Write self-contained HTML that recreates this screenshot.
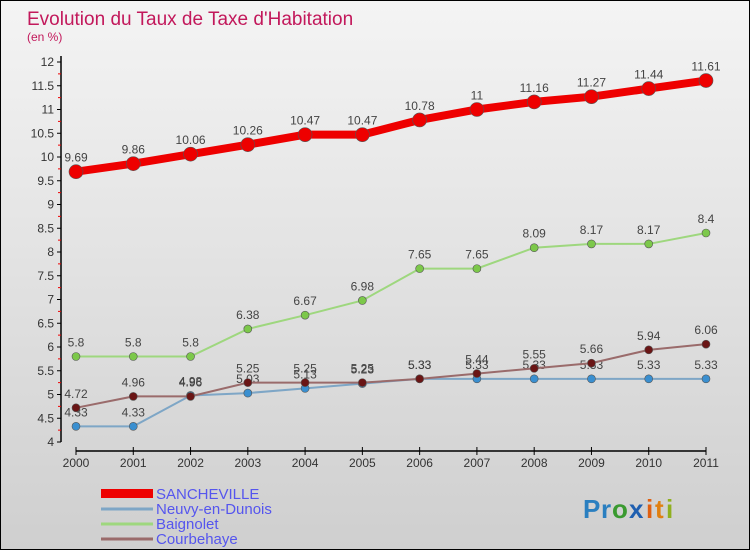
<!DOCTYPE html>
<html><head><meta charset="utf-8"><style>
body{margin:0;}
#wrap{width:748px;height:548px;border:1px solid #000;background:linear-gradient(#f4f4f4,#cfcfcf);position:relative;font-family:"Liberation Sans",sans-serif;overflow:hidden}
</style></head><body>
<div id="wrap">
<svg id="svg" width="748" height="548">
<text x="26" y="24" font-size="19" fill="#c2185b">Evolution du Taux de Taxe d'Habitation</text>
<text x="26" y="40" font-size="12" fill="#c2185b">(en %)</text>
<g id="axes"></g><g id="series"></g>
<g id="legend" font-size="15" fill="#5555ee">
<rect x="100" y="488" width="52" height="9" fill="#e00"/>
<text x="155" y="498">SANCHEVILLE</text>
<line x1="100" y1="508" x2="152" y2="508" stroke="#7ea6c6" stroke-width="3"/>
<text x="155" y="513">Neuvy-en-Dunois</text>
<line x1="100" y1="523" x2="152" y2="523" stroke="#9ed77e" stroke-width="3"/>
<text x="155" y="528">Baignolet</text>
<line x1="100" y1="538" x2="152" y2="538" stroke="#9a6b6b" stroke-width="3"/>
<text x="155" y="543">Courbehaye</text>
</g>
<g font-size="26" font-weight="bold">
<text x="582" y="517" fill="#2a7fc0">P</text><text x="600" y="517" fill="#2a7fc0">r</text><text x="611" y="517" fill="#3a9a30">o</text><text x="628" y="517" fill="#1f5fb0">x</text><text x="645" y="517" fill="#e06010">i</text><text x="654" y="517" fill="#e08010">t</text><text x="665" y="517" fill="#90b020">i</text>
</g>
</svg>
</div>
<script>
const years=[2000,2001,2002,2003,2004,2005,2006,2007,2008,2009,2010,2011];
const sancheville=[9.69,9.86,10.06,10.26,10.47,10.47,10.78,11,11.16,11.27,11.44,11.61];
const neuvy=[4.33,4.33,4.98,5.03,5.13,5.23,5.33,5.33,5.33,5.33,5.33,5.33];
const baignolet=[5.8,5.8,5.8,6.38,6.67,6.98,7.65,7.65,8.09,8.17,8.17,8.4];
const courbehaye=[4.72,4.96,4.96,5.25,5.25,5.25,5.33,5.44,5.55,5.66,5.94,6.06];
const yTicks=[4,4.5,5,5.5,6,6.5,7,7.5,8,8.5,9,9.5,10,10.5,11,11.5,12];
const NS="http://www.w3.org/2000/svg";
const xs=i=>75+i*(630/11);
const ys=v=>441-(v-4)*47.5;
function mk(t,a,p){const e=document.createElementNS(NS,t);for(const k in a)e.setAttribute(k,a[k]);p.appendChild(e);return e;}
const ax=document.getElementById('axes');
const yl=mk('line',{x1:60,y1:55,x2:60,y2:441,stroke:'#000','stroke-width':1.5},ax);


const xl=mk('line',{x1:75,y1:450,x2:705,y2:450,stroke:'#000','stroke-width':1.5},ax);


yTicks.forEach(v=>{
  mk('line',{x1:56,y1:ys(v),x2:60,y2:ys(v),stroke:'#000'},ax);
  if(v<12)mk('line',{x1:57,y1:ys(v+0.25),x2:60,y2:ys(v+0.25),stroke:'#e00'},ax);
  const t=mk('text',{x:53,y:ys(v)+4,'font-size':12,'text-anchor':'end',fill:'#333'},ax);
  t.textContent=String(v);
  
  
});
years.forEach((y,i)=>{
  mk('line',{x1:xs(i),y1:446,x2:xs(i),y2:454,stroke:'#000'},ax);
  const t=mk('text',{x:xs(i),y:466,'font-size':12,'text-anchor':'middle',fill:'#333'},ax);
  t.textContent=String(y);
  
  
});
const sg=document.getElementById('series');
function series(name,data,col,dot,w,r){
  const g=mk('g',{},sg);
  
  
  const p=mk('polyline',{points:data.map((v,i)=>xs(i)+','+ys(v)).join(' '),fill:'none',stroke:col,'stroke-width':w},g);
  
  
  data.forEach((v,i)=>{
    const c=mk('circle',{cx:xs(i),cy:ys(v),r:r,fill:dot,stroke:'#555','stroke-width':0.6},g);
    
    
    const t=mk('text',{x:xs(i),y:ys(v)-10,'font-size':12,'text-anchor':'middle',fill:'#444'},g);
    t.textContent=String(v);
    
    
  });
}
series('baignolet',baignolet,'#9ed77e','#7cc84a',2,4);
series('neuvy',neuvy,'#7ea6c6','#3a8fd0',2,4);
series('courbehaye',courbehaye,'#9a6b6b','#6a1515',2,4);
series('sancheville',sancheville,'#e00','#e00',8,7);
</script>
</body></html>
